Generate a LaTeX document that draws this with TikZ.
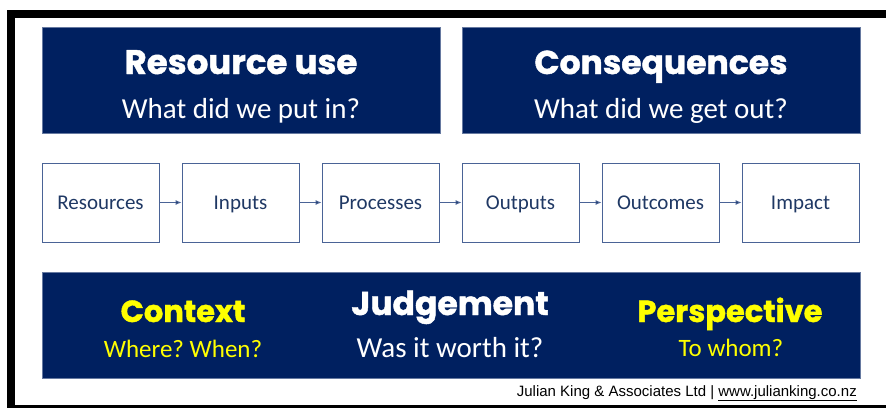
\documentclass[tikz,border=0pt]{standalone}
\usepackage{fontspec}
\setmainfont{Carlito}
\newfontfamily\headfont[BoldFeatures = {FakeBold = 1.3}]{Poppins}
\newfontfamily\footfont{Liberation Sans}
\usetikzlibrary{arrows.meta}
\usetikzlibrary{positioning}
\frenchspacing
\definecolor{mnavy}{HTML}{002060}
\definecolor{myellow}{HTML}{FFFF00}
\definecolor{mframe}{HTML}{4A6396}
\definecolor{mtext}{HTML}{1F3864}
\tikzset{panel/.style = {fill = mnavy, draw = mnavy!60!white, line width = 0.6}}
\tikzset{heading/.style = {anchor = base, font = \headfont\bfseries\fontsize{34}{34}\selectfont}}
\tikzset{question/.style = {anchor = base, font = \fontsize{29}{29}\selectfont}}
\tikzset{stage/.style = {draw = mframe, line width = 0.9, minimum width = 117, minimum height = 79, inner sep = 0, text height = 13.5, text depth = 0, text = mtext, font = \fontsize{21}{21}\selectfont}}
\tikzset{flow/.style = {draw = mframe, line width = 0.9, -{Latex[length = 6, width = 5, fill = mtext]}}}

\begin{document}
\begin{tikzpicture}[x = 1pt, y = -1pt]
      \useasboundingbox (0, 0) rectangle (886, 408);
      \fill (7, 10) rectangle (886, 18);
      \fill (7, 10) rectangle (15, 408);
      \fill (7, 405) rectangle (886, 408);
      \draw [panel] (42, 27) rectangle (440, 133);
      \draw [panel] (462, 27) rectangle (860, 133);
      \draw [panel] (42, 272) rectangle (860, 378);
      \node [heading, text = white] (ruse) at (241, 74) {Resource use};
      \node [question, text = white] (rq) at (241, 118) {What did we put in?};
      \node [heading, text = white, font = \headfont\bfseries\fontsize{33}{33}\selectfont] (cons) at (661, 74) {Consequences};
      \node [question, text = white] (cq) at (661, 118) {What did we get out?};
      \foreach \i/\x/\t in {1/100.5/Resources, 2/240.5/Inputs, 3/380.5/Processes, 4/520.5/Outputs, 5/660.5/Outcomes, 6/800.5/Impact} {
        \node [stage] (s\i) at (\x, 202.5) {\t};
      }
      \foreach \i [evaluate = \i as \j using int(\i + 1)] in {1,...,5} {
        \draw [flow] (s\i) -- (s\j);
      }
      \node [heading, text = myellow, font = \headfont\bfseries\fontsize{30.5}{30.5}\selectfont] (ctx) at (183, 322) {Context};
      \node [question, text = myellow, font = \fontsize{25}{25}\selectfont] (ctxq) at (183, 357) {Where? When?};
      \node [heading, text = white, font = \headfont\bfseries\fontsize{33}{33}\selectfont] (judg) at (450, 315) {Judgement};
      \node [question, text = white] (judgq) at (450, 357) {Was it worth it?};
      \node [heading, text = myellow, font = \headfont\bfseries\fontsize{30.5}{30.5}\selectfont] (persp) at (730, 322) {Perspective};
      \node [question, text = myellow, font = \fontsize{25}{25}\selectfont] (perspq) at (731, 356) {To whom?};
      \node [anchor = base east, inner sep = 0, font = \footfont\fontsize{15}{15}\selectfont] (credit) at (857, 396) {Julian King \& Associates Ltd | \underline{www.julianking.co.nz}};
    \end{tikzpicture}
\end{document}
